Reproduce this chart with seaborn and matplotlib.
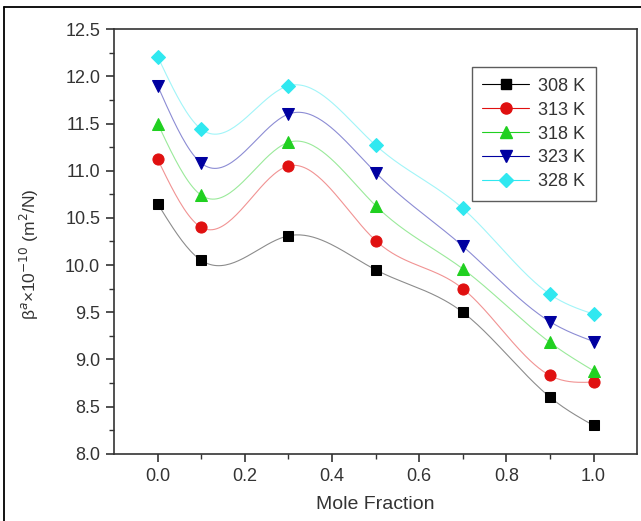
import numpy as np
import pandas as pd
import seaborn as sns
import matplotlib.pyplot as plt
from matplotlib.lines import Line2D

# Data
mole_fraction = [0.0, 0.1, 0.3, 0.5, 0.7, 0.9, 1.0]
temps = ['308 K', '313 K', '318 K', '323 K', '328 K']
beta_308 = [10.65, 10.05, 10.31, 9.95, 9.50, 8.60, 8.30]
beta_313 = [11.12, 10.40, 11.05, 10.26, 9.75, 8.83, 8.76]
beta_318 = [11.50, 10.74, 11.30, 10.63, 9.96, 9.18, 8.88]
beta_323 = [11.90, 11.08, 11.60, 10.98, 10.20, 9.40, 9.19]
beta_328 = [12.21, 11.44, 11.90, 11.27, 10.60, 9.69, 9.48]

series = [beta_308, beta_313, beta_318, beta_323, beta_328]
colors = ['#000000', '#e01010', '#20d020', '#0000a0', '#30e8f0']
markers = ['s', 'o', '^', 'v', 'D']
msizes = [6.5, 8, 8.5, 8.5, 7.5]

df = pd.DataFrame({
    'x': np.tile(mole_fraction, len(temps)),
    'y': np.concatenate(series),
    'T': np.repeat(temps, len(mole_fraction)),
})


def natural_spline(x, y, n=200):
    # smooth connector like Origin's spline line
    x = np.asarray(x, float)
    y = np.asarray(y, float)
    k = len(x)
    h = np.diff(x)
    A = np.zeros((k, k))
    b = np.zeros(k)
    A[0, 0] = A[-1, -1] = 1
    for i in range(1, k - 1):
        A[i, i - 1] = h[i - 1]
        A[i, i] = 2 * (h[i - 1] + h[i])
        A[i, i + 1] = h[i]
        b[i] = 6 * ((y[i + 1] - y[i]) / h[i] - (y[i] - y[i - 1]) / h[i - 1])
    M = np.linalg.solve(A, b)
    xs = np.linspace(x[0], x[-1], n)
    idx = np.clip(np.searchsorted(x, xs) - 1, 0, k - 2)
    x0, x1 = x[idx], x[idx + 1]
    hh = x1 - x0
    ys = (M[idx] * (x1 - xs) ** 3 / (6 * hh) + M[idx + 1] * (xs - x0) ** 3 / (6 * hh)
          + (y[idx] / hh - M[idx] * hh / 6) * (x1 - xs)
          + (y[idx + 1] / hh - M[idx + 1] * hh / 6) * (xs - x0))
    return xs, ys


sns.set_style('ticks')
plt.rcParams['font.family'] = ['Liberation Sans', 'DejaVu Sans']

fig = plt.figure(figsize=(6.41, 5.21), dpi=100)
ax = fig.add_axes([0.178, 0.129, 0.816, 0.815])

handles = []
for vals, t, c, m, ms in zip(series, temps, colors, markers, msizes):
    xs, ys = natural_spline(mole_fraction, vals)
    ax.plot(xs, ys, color=c, lw=0.8, alpha=0.45, zorder=1)
    sub = df[df['T'] == t]
    sns.lineplot(data=sub, x='x', y='y', ax=ax, linestyle='none', marker=m,
                 markersize=ms, color=c, markeredgecolor=c, zorder=3)
    handles.append(Line2D([0], [0], color=c, lw=0.8, marker=m,
                          ms=ms, markeredgecolor=c, label=t))

ax.set_xlim(-0.1, 1.1)
ax.set_ylim(8.0, 12.5)
ax.set_xticks(np.arange(0, 1.01, 0.2))
ax.set_xticks(np.arange(0.1, 1.0, 0.2), minor=True)
ax.set_yticks(np.arange(8.0, 12.51, 0.5))
ax.set_yticks(np.arange(8.25, 12.5, 0.5), minor=True)
ax.xaxis.set_major_formatter(plt.FormatStrFormatter('%.1f'))
ax.yaxis.set_major_formatter(plt.FormatStrFormatter('%.1f'))
ax.tick_params(which='major', direction='out', length=6, width=1.2,
               labelsize=13, labelcolor='#333333', color='#333333', pad=4)
ax.tick_params(which='minor', direction='out', length=3.5, width=1.0,
               color='#333333')
for s in ax.spines.values():
    s.set_linewidth(1.2)
    s.set_color('#333333')

ax.set_xlabel('Mole Fraction', fontsize=14, color='#333333', labelpad=8)
ax.set_ylabel('β$^{a}$×10$^{-10}$ (m$^{2}$/N)', fontsize=12.5, color='#333333')
ax.yaxis.set_label_coords(-0.14, 0.47)

leg = ax.legend(handles=handles, loc='upper right',
                bbox_to_anchor=(0.922, 0.911), fontsize=13,
                handlelength=2.6, handletextpad=0.5, labelspacing=0.38,
                borderpad=0.6, borderaxespad=0, fancybox=False, frameon=True)
leg.get_frame().set_edgecolor('#333333')
leg.get_frame().set_linewidth(1.0)
for txt in leg.get_texts():
    txt.set_color('#333333')

# outer frame lines (left and top) around the figure
fig.add_artist(Line2D([0.006, 0.006], [0, 0.987], transform=fig.transFigure,
                      color='black', lw=1.3))
fig.add_artist(Line2D([0.006, 1.0], [0.987, 0.987], transform=fig.transFigure,
                      color='black', lw=1.3))

fig.savefig('out.png', dpi=100)
